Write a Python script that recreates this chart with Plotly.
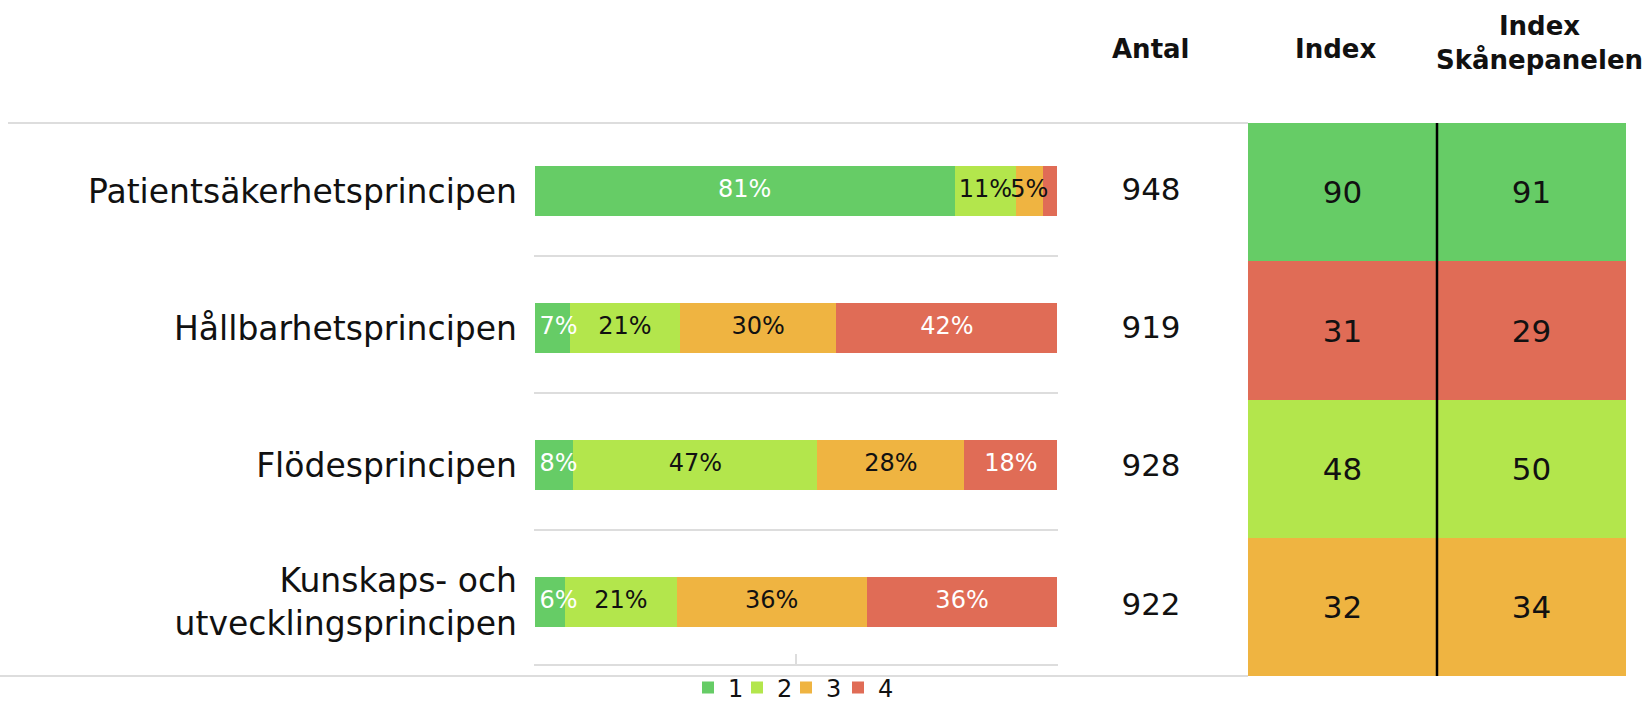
import plotly.graph_objects as go
import numpy as np

# ---------------- data ----------------
categories = ["Patientsäkerhetsprincipen", "Hållbarhetsprincipen", "Flödesprincipen",
              "Kunskaps- och<br>utvecklingsprincipen"]
series_names = ["1", "2", "3", "4"]
share_1 = [0.804, 0.068, 0.074, 0.058]
share_2 = [0.116, 0.210, 0.467, 0.214]
share_3 = [0.052, 0.299, 0.281, 0.363]
share_4 = [0.028, 0.423, 0.178, 0.365]
labels_1 = ["81%", "7%", "8%", "6%"]
labels_2 = ["11%", "21%", "47%", "21%"]
labels_3 = ["5%", "30%", "28%", "36%"]
labels_4 = ["", "42%", "18%", "36%"]
antal = [948, 919, 928, 922]
index_values = [90, 31, 48, 32]
index_skane = [91, 29, 50, 34]
header_antal = "Antal"
header_index = "Index"
header_skane = "Index<br>Skånepanelen"

# ---------------- style ----------------
FONT = "DejaVu Sans"
W, H = 1648, 706
series_colors = ["#66CC66", "#B3E64C", "#EFB441", "#E06C56"]
label_colors = ["white", "#111111", "#111111", "white"]
row_colors = ["#66CC66", "#E06C56", "#B3E64C", "#EFB441"]
grey = "#DDDDDD"
legend_ids = ["legend", "legend2", "legend3", "legend4"]
legend_left_px = [688, 737, 786, 838]
MIN_LABEL_X = 0.046          # keep narrow first-segment labels inside the bar


def px_x(p):
    return p / W


def px_y(p):
    return 1 - p / H


rows = list(range(len(categories)))
shares = [share_1, share_2, share_3, share_4]
labels = [labels_1, labels_2, labels_3, labels_4]

fig = go.Figure()

# stacked bars
for name, vals, col, lid in zip(series_names, shares, series_colors, legend_ids):
    fig.add_trace(go.Bar(
        y=rows, x=vals, name=name, orientation="h", marker=dict(color=col, line=dict(width=0)),
        width=0.365, xaxis="x", yaxis="y", hoverinfo="skip", legend=lid,
    ))

# segment labels
cum = np.zeros(len(categories))
for vals, labs, tcol in zip(shares, labels, label_colors):
    v = np.array(vals)
    mids = np.maximum(cum + v / 2, MIN_LABEL_X)
    cum = cum + v
    fig.add_trace(go.Scatter(
        x=mids, y=rows, mode="text", text=labs, showlegend=False,
        textfont=dict(family=FONT, size=24, color=tcol), xaxis="x", yaxis="y",
        cliponaxis=False, hoverinfo="skip",
    ))

# Antal column
fig.add_trace(go.Scatter(
    x=[0.5] * len(antal), y=rows, mode="text", text=[str(a) for a in antal],
    textfont=dict(family=FONT, size=31, color="#111111"), showlegend=False,
    xaxis="x3", yaxis="y2", hoverinfo="skip",
))

# index table cells
for col_i, vals in enumerate([index_values, index_skane]):
    fig.add_trace(go.Bar(
        y=rows, x=[1] * len(vals), base=[col_i] * len(vals), orientation="h", width=1,
        marker=dict(color=row_colors, line=dict(width=0)), showlegend=False,
        text=[str(v) for v in vals], textposition="inside", insidetextanchor="middle",
        textangle=0, textfont=dict(family=FONT, size=31, color="#111111"),
        xaxis="x2", yaxis="y2", hoverinfo="skip",
    ))

legend_style = dict(orientation="h", xref="container", yref="container", xanchor="left",
                    y=px_y(688), yanchor="middle",
                    font=dict(family=FONT, size=24, color="#111111"), itemwidth=30,
                    bgcolor="rgba(0,0,0,0)")
legends = {lid: dict(legend_style, x=px_x(lx)) for lid, lx in zip(legend_ids, legend_left_px)}

fig.update_layout(
    width=W, height=H, margin=dict(l=0, r=0, t=0, b=0, autoexpand=False),
    paper_bgcolor="white", plot_bgcolor="rgba(0,0,0,0)",
    barmode="stack", bargap=0,
    font=dict(family=FONT, color="#111111"),
    showlegend=True,
    xaxis=dict(domain=[px_x(534), px_x(1058)], range=[-0.001, 1.001], showgrid=False,
               zeroline=False, showline=True, linecolor=grey, linewidth=1.5,
               tickvals=[0, 0.5, 1], ticks="inside", ticklen=10, tickcolor=grey, tickwidth=1.5,
               showticklabels=False, anchor="y", fixedrange=True),
    yaxis=dict(domain=[px_y(664), px_y(123)], range=[3.45, -0.5], tickvals=rows,
               ticktext=categories, ticks="", showgrid=False, zeroline=False,
               tickfont=dict(family=FONT, size=33, color="#111111"),
               ticklabelstandoff=16, automargin=False, anchor="x",
               minor=dict(tickvals=[0.47, 1.47, 2.47], showgrid=True, gridcolor=grey,
                          gridwidth=1.5, ticks="")),
    xaxis2=dict(domain=[px_x(1248), px_x(1626)], range=[0, 2], visible=False, anchor="y2"),
    xaxis3=dict(domain=[px_x(1105), px_x(1197)], range=[0, 1], visible=False, anchor="y2"),
    yaxis2=dict(domain=[px_y(676), px_y(123)], range=[3.5, -0.5], visible=False, anchor="x2"),
    **legends,
)

# borders & divider
fig.add_shape(type="line", xref="paper", yref="paper", x0=px_x(8), x1=px_x(1248),
              y0=px_y(123), y1=px_y(123), line=dict(color=grey, width=2), layer="below")
fig.add_shape(type="line", xref="paper", yref="paper", x0=0, x1=px_x(1248),
              y0=px_y(676), y1=px_y(676), line=dict(color=grey, width=2), layer="below")
fig.add_shape(type="line", xref="x2", yref="paper", x0=1, x1=1,
              y0=px_y(676), y1=px_y(123), line=dict(color="black", width=2.5), layer="above")

# headers
hfont = dict(family=FONT, size=26, color="#111111", weight="bold")
fig.add_annotation(text=header_antal, xref="x3", x=0.5, yref="paper", y=px_y(49),
                   showarrow=False, font=hfont, yanchor="middle")
fig.add_annotation(text=header_index, xref="x2", x=0.5, xshift=-7, yref="paper", y=px_y(49),
                   showarrow=False, font=hfont, yanchor="middle")
fig.add_annotation(text=header_skane, xref="x2", x=1.5, xshift=8, yref="paper", y=px_y(43),
                   showarrow=False, font=hfont, yanchor="middle")

post = (
    "document.body.style.margin='0px';"
    "document.documentElement.style.overflow='hidden';"
)
fig.write_html("out.html", config={"displayModeBar": False}, post_script=post)
